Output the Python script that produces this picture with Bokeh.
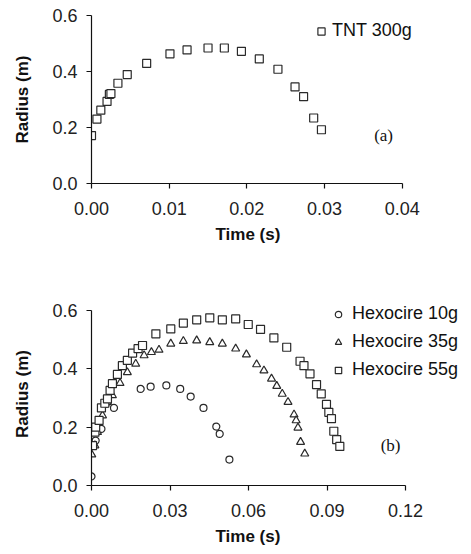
from bokeh.plotting import figure
from bokeh.models import Range1d, Legend, LegendItem, Label, FixedTicker, Title
from bokeh.layouts import column
from bokeh.embed import file_html
from bokeh.resources import INLINE

# ---- Data ----
tnt_t = [0.0000, 0.0007, 0.0012, 0.0020, 0.0023, 0.0025, 0.0034, 0.0046, 0.0071, 0.0101,
         0.0123, 0.0150, 0.0171, 0.0193, 0.0216, 0.0240, 0.0262, 0.0273, 0.0286, 0.0296]
tnt_r = [0.171, 0.230, 0.262, 0.293, 0.318, 0.321, 0.358, 0.389, 0.429, 0.463,
         0.477, 0.484, 0.484, 0.472, 0.445, 0.408, 0.345, 0.310, 0.234, 0.192]

hex10_t = [0.0000, 0.0016, 0.0038, 0.0055, 0.0086, 0.0188, 0.0226, 0.0286, 0.0339, 0.0379,
           0.0428, 0.0477, 0.0490, 0.0527]
hex10_r = [0.031, 0.154, 0.194, 0.280, 0.266, 0.331, 0.339, 0.343, 0.331, 0.305,
           0.266, 0.202, 0.177, 0.089]

hex35_t = [0.0001, 0.0013, 0.0023, 0.0042, 0.0061, 0.0080, 0.0109, 0.0137, 0.0169, 0.0201,
           0.0229, 0.0258, 0.0303, 0.0351, 0.0402, 0.0452, 0.0500, 0.0551, 0.0592, 0.0631,
           0.0659, 0.0688, 0.0708, 0.0729, 0.0751, 0.0774, 0.0782, 0.0789, 0.0799, 0.0815]
hex35_r = [0.106, 0.137, 0.183, 0.240, 0.286, 0.309, 0.351, 0.388, 0.417, 0.446,
           0.457, 0.465, 0.486, 0.495, 0.497, 0.491, 0.486, 0.469, 0.449, 0.415,
           0.394, 0.366, 0.341, 0.314, 0.286, 0.243, 0.223, 0.198, 0.149, 0.109]

hex55_t = [0.0004, 0.0013, 0.0016, 0.0029, 0.0038, 0.0051, 0.0061, 0.0071, 0.0080, 0.0099,
           0.0118, 0.0137, 0.0157, 0.0178, 0.0195, 0.0246, 0.0303, 0.0351, 0.0402, 0.0452,
           0.0500, 0.0551, 0.0599, 0.0646, 0.0697, 0.0746, 0.0797, 0.0812, 0.0835, 0.0860,
           0.0878, 0.0898, 0.0907, 0.0917, 0.0926, 0.0937, 0.0949]
hex55_r = [0.137, 0.183, 0.200, 0.223, 0.266, 0.282, 0.297, 0.326, 0.349, 0.381,
           0.411, 0.429, 0.454, 0.469, 0.480, 0.520, 0.537, 0.557, 0.568, 0.575,
           0.568, 0.571, 0.552, 0.535, 0.506, 0.474, 0.426, 0.411, 0.383, 0.346,
           0.314, 0.278, 0.251, 0.229, 0.186, 0.157, 0.134]

xticks_a = [0.00, 0.01, 0.02, 0.03, 0.04]
xticks_b = [0.00, 0.03, 0.06, 0.09, 0.12]
yticks = [0.0, 0.2, 0.4, 0.6]

FONT = "Liberation Sans"
SERIF = "Liberation Serif"
MC = "#2a2a2a"


def style(p, xticks, xfmt, xoffset):
    p.xgrid.visible = False
    p.ygrid.visible = False
    p.outline_line_color = None
    p.xaxis.ticker = FixedTicker(ticks=xticks)
    p.yaxis.ticker = FixedTicker(ticks=yticks)
    p.xaxis.bounds = (xticks[0], xticks[-1])
    p.yaxis.bounds = (yticks[0], yticks[-1])
    p.xaxis.major_label_overrides = {t: xfmt.format(t) for t in xticks}
    p.yaxis.major_label_overrides = {t: "{:.1f}".format(t) for t in yticks}
    for ax in (p.xaxis[0], p.yaxis[0]):
        ax.axis_line_color = "#111111"
        ax.axis_line_width = 1.2
        ax.major_tick_line_color = "#111111"
        ax.major_tick_line_width = 1.2
        ax.major_tick_out = 5
        ax.major_tick_in = 0
        ax.minor_tick_line_color = None
        ax.major_label_text_font = FONT
        ax.major_label_text_font_size = "18px"
        ax.major_label_text_color = "#222222"
        ax.axis_label_text_font = FONT
        ax.axis_label_text_font_size = "17px"
        ax.axis_label_text_font_style = "bold"
        ax.axis_label_text_color = "#111111"
    p.xaxis.major_label_standoff = 13
    p.yaxis.major_label_standoff = 9
    p.yaxis.axis_label_standoff = 17
    p.yaxis.axis_label = "Radius (m)"
    p.add_layout(Title(text="Time (s)", align="left", offset=xoffset, standoff=10,
                       text_font=FONT, text_font_size="17px", text_font_style="bold",
                       text_color="#111111"), "below")


# ---- Panel (a) ----
# frame: left 87 px, 0.04 s spans 314 px; frame is widened to the right so the legend fits
p1 = figure(width=471, height=268, output_backend="svg", toolbar_location=None,
            x_range=Range1d(0, 0.04 * 384 / 314), y_range=Range1d(0, 0.6),
            min_border_left=87, min_border_right=0, min_border_top=15, min_border_bottom=85)
style(p1, xticks_a, "{:.2f}", 124)
r_tnt = p1.scatter(tnt_t, tnt_r, marker="square", size=8, fill_color="white",
                   line_color=MC, line_width=1.2)
leg1 = Legend(items=[LegendItem(label="TNT 300g", renderers=[r_tnt])],
              location=(221, 142), padding=0, margin=0, spacing=0,
              glyph_width=18, glyph_height=18, label_height=20, label_standoff=2,
              label_text_font=FONT, label_text_font_size="18px", label_text_color="#111111",
              background_fill_alpha=0, border_line_color=None)
p1.add_layout(leg1)
p1.add_layout(Label(x=0.0376, y=0.171, text="(a)", text_align="center", text_baseline="middle",
                    text_font=SERIF, text_font_size="17px", text_color="#111111"))

# ---- Panel (b) ----
# frame top raised by 8 px (range extended above 0.6) so the legend is not clipped
p2 = figure(width=471, height=286, output_backend="svg", toolbar_location=None,
            x_range=Range1d(0, 0.12 * 380 / 314), y_range=Range1d(0, 0.6 * 183 / 175),
            min_border_left=91, min_border_right=0, min_border_top=34, min_border_bottom=69)
style(p2, xticks_b, "{:.2f}", 124)
r10 = p2.scatter(hex10_t, hex10_r, marker="circle", size=7, fill_color="white",
                 line_color=MC, line_width=1.2)
r35 = p2.scatter(hex35_t, hex35_r, marker="triangle", size=8, fill_color="white",
                 line_color=MC, line_width=1.2)
r55 = p2.scatter(hex55_t, hex55_r, marker="square", size=8, fill_color="white",
                 line_color=MC, line_width=1.2)
leg2 = Legend(items=[LegendItem(label="Hexocire 10g", renderers=[r10]),
                     LegendItem(label="Hexocire 35g", renderers=[r35]),
                     LegendItem(label="Hexocire 55g", renderers=[r55])],
              location=(239, 105), padding=0, margin=0, spacing=7,
              glyph_width=16, glyph_height=16, label_height=20, label_standoff=6,
              label_text_font=FONT, label_text_font_size="18px", label_text_color="#111111",
              background_fill_alpha=0, border_line_color=None)
p2.add_layout(leg2)
p2.add_layout(Label(x=0.1143, y=0.137, text="(b)", text_align="center", text_baseline="middle",
                    text_font=SERIF, text_font_size="17px", text_color="#111111"))

layout = column(p1, p2, spacing=0)
open("out.html", "w").write(file_html(layout, INLINE))
